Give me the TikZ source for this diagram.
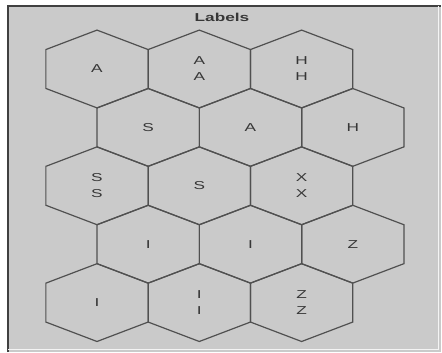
\documentclass[tikz,border=0pt]{standalone}
\usepackage{fontspec}
\newfontfamily\widesans[FakeStretch=1.5]{Liberation Sans}
\definecolor{panelgray}{RGB}{202,202,202}
\definecolor{hexgray}{RGB}{80,80,80}
\definecolor{lbltext}{RGB}{55,55,55}
\usetikzlibrary{calc}

\begin{document}
\begin{tikzpicture}[x=1pt, y=-1pt,
  hlbl/.style={inner sep=0pt, font=\widesans\fontsize{11.5}{16}\selectfont,
               align=center, text=lbltext},
  hedge/.style={draw=hexgray, line width=1.2pt, line join=miter}
]
\useasboundingbox (0,0) rectangle (442,353);

% Panel
\fill[panelgray] (7,5) rectangle (441,352);
\draw[black!75, line width=2pt] (8,352) -- (8,6) -- (441,6);
\draw[white!80!panelgray, line width=1pt] (438.5,6) -- (438.5,349.5) -- (8,349.5);
\node[hlbl, font=\widesans\fontsize{11.5}{14}\selectfont\bfseries] (ttl) at (222,17) {Labels};

% Row 1
\node[hlbl] (h11) at ( 97.0, 69.0) {A};
\node[hlbl] (h12) at (199.3, 69.0) {A\\A};
\node[hlbl] (h13) at (301.6, 69.0) {H\\H};

% Row 2
\node[hlbl] (h21) at (148.2,127.4) {S};
\node[hlbl] (h22) at (250.5,127.4) {A};
\node[hlbl] (h23) at (352.8,127.4) {H};

% Row 3
\node[hlbl] (h31) at ( 97.0,185.8) {S\\S};
\node[hlbl] (h32) at (199.3,185.8) {S};
\node[hlbl] (h33) at (301.6,185.8) {X\\X};

% Row 4
\node[hlbl] (h41) at (148.2,244.2) {I};
\node[hlbl] (h42) at (250.5,244.2) {I};
\node[hlbl] (h43) at (352.8,244.2) {Z};

% Row 5
\node[hlbl] (h51) at ( 97.0,302.6) {I};
\node[hlbl] (h52) at (199.3,302.6) {I\\I};
\node[hlbl] (h53) at (301.6,302.6) {Z\\Z};

% Hexagon outlines
\foreach \h in {h11,h12,h13,h21,h22,h23,h31,h32,h33,h41,h42,h43,h51,h52,h53}
  \draw[hedge] (\h.center) ++(0,-38.9) -- ++(51.15,19.45) -- ++(0,38.9)
    -- ++(-51.15,19.45) -- ++(-51.15,-19.45) -- ++(0,-38.9) -- cycle;
\end{tikzpicture}
\end{document}
